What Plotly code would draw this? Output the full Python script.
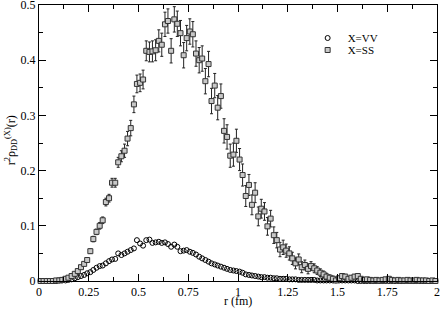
import plotly.graph_objects as go

# radial grid (fm)
r = [0.008, 0.023, 0.039, 0.055, 0.070, 0.086, 0.102, 0.117, 0.133, 0.148,
     0.164, 0.180, 0.195, 0.211, 0.227, 0.242, 0.258, 0.273, 0.289, 0.305,
     0.320, 0.336, 0.352, 0.367, 0.383, 0.398, 0.414, 0.430, 0.445, 0.461,
     0.477, 0.492, 0.508, 0.523, 0.539, 0.555, 0.570, 0.586, 0.602, 0.617,
     0.633, 0.648, 0.664, 0.680, 0.695, 0.711, 0.727, 0.742, 0.758, 0.773,
     0.789, 0.805, 0.820, 0.836, 0.852, 0.867, 0.883, 0.898, 0.914, 0.930,
     0.945, 0.961, 0.977, 0.992, 1.008, 1.023, 1.039, 1.055, 1.070, 1.086,
     1.102, 1.117, 1.133, 1.148, 1.164, 1.180, 1.195, 1.211, 1.227, 1.242,
     1.258, 1.273, 1.289, 1.305, 1.320, 1.336, 1.352, 1.367, 1.383, 1.398,
     1.414, 1.430, 1.445, 1.461, 1.477, 1.492, 1.508, 1.523, 1.539, 1.555,
     1.570, 1.586, 1.602, 1.617, 1.633, 1.648, 1.664, 1.680, 1.695, 1.711,
     1.727, 1.742, 1.758, 1.773, 1.789, 1.805, 1.820, 1.836, 1.852, 1.867,
     1.883, 1.898, 1.914, 1.930, 1.945, 1.961, 1.977, 1.992]

vv = [0.000, 0.000, 0.000, 0.000, 0.000, 0.000, 0.001, 0.001, 0.001, 0.002,
      0.003, 0.005, 0.007, 0.009, 0.011, 0.014, 0.016, 0.020, 0.024, 0.027,
      0.028, 0.032, 0.036, 0.039, 0.040, 0.050, 0.047, 0.050, 0.053, 0.056,
      0.059, 0.074, 0.068, 0.064, 0.074, 0.075, 0.069, 0.070, 0.071, 0.069,
      0.070, 0.067, 0.062, 0.066, 0.062, 0.054, 0.055, 0.056, 0.053, 0.051,
      0.048, 0.044, 0.041, 0.038, 0.035, 0.032, 0.030, 0.028, 0.026, 0.024,
      0.022, 0.020, 0.019, 0.018, 0.017, 0.015, 0.012, 0.011, 0.010, 0.009,
      0.008, 0.007, 0.007, 0.006, 0.006, 0.005, 0.005, 0.004, 0.004, 0.004,
      0.003, 0.003, 0.003, 0.002, 0.002, 0.002, 0.002, 0.002, 0.002, 0.001,
      0.001, 0.001, 0.001, 0.001, 0.001, 0.001, 0.001, 0.001, 0.001, 0.001,
      0.001, 0.001, 0.000, 0.000, 0.000, 0.000, 0.000, 0.000, 0.000, 0.000,
      0.000, 0.000, 0.000, 0.000, 0.000, 0.000, 0.000, 0.000, 0.000, 0.000,
      0.000, 0.000, 0.000, 0.000, 0.000, 0.000, 0.000, 0.000]

ss = [0.000, 0.000, 0.000, 0.000, 0.000, 0.001, 0.001, 0.002, 0.004, 0.006,
      0.009, 0.013, 0.018, 0.025, 0.031, 0.038, 0.054, 0.076, 0.089, 0.100,
      0.110, 0.143, 0.150, 0.178, 0.178, 0.215, 0.226, 0.236, 0.258, 0.277,
      0.320, 0.357, 0.359, 0.365, 0.417, 0.415, 0.416, 0.418, 0.435, 0.428,
      0.465, 0.471, 0.417, 0.474, 0.466, 0.449, 0.409, 0.440, 0.452, 0.447,
      0.412, 0.400, 0.403, 0.362, 0.393, 0.326, 0.354, 0.314, 0.335, 0.272,
      0.261, 0.227, 0.229, 0.254, 0.220, 0.192, 0.154, 0.174, 0.138, 0.160,
      0.117, 0.131, 0.126, 0.099, 0.113, 0.083, 0.074, 0.057, 0.061, 0.055,
      0.050, 0.041, 0.032, 0.039, 0.025, 0.029, 0.022, 0.027, 0.023, 0.019,
      0.015, 0.012, 0.008, 0.006, 0.004, 0.001, 0.005, 0.009, 0.008, 0.004,
      0.006, 0.008, 0.009, 0.004, 0.002, 0.003, 0.002, 0.001, 0.002, 0.001,
      0.002, 0.003, 0.004, 0.002, 0.001, 0.002, 0.001, 0.001, 0.002, 0.001,
      0.001, 0.002, 0.001, 0.001, 0.001, 0.000, 0.001, 0.000]

ss_err = [0.001, 0.001, 0.001, 0.001, 0.001, 0.001, 0.001, 0.001, 0.001, 0.001,
          0.001, 0.002, 0.002, 0.003, 0.003, 0.004, 0.004, 0.005, 0.005, 0.006,
          0.006, 0.007, 0.007, 0.008, 0.008, 0.009, 0.010, 0.012, 0.013, 0.014,
          0.015, 0.016, 0.016, 0.017, 0.018, 0.018, 0.019, 0.019, 0.020, 0.021,
          0.022, 0.022, 0.022, 0.023, 0.023, 0.023, 0.023, 0.023, 0.023, 0.023,
          0.023, 0.023, 0.023, 0.023, 0.023, 0.023, 0.022, 0.022, 0.022, 0.022,
          0.022, 0.021, 0.021, 0.021, 0.020, 0.020, 0.019, 0.019, 0.018, 0.018,
          0.017, 0.017, 0.016, 0.016, 0.015, 0.015, 0.014, 0.013, 0.013, 0.012,
          0.012, 0.011, 0.010, 0.010, 0.010, 0.009, 0.009, 0.008, 0.008, 0.007,
          0.007, 0.006, 0.006, 0.005, 0.005, 0.004, 0.004, 0.004, 0.004, 0.004,
          0.003, 0.003, 0.003, 0.003, 0.003, 0.003, 0.003, 0.003, 0.003, 0.003,
          0.003, 0.003, 0.003, 0.002, 0.002, 0.002, 0.002, 0.002, 0.002, 0.002,
          0.002, 0.002, 0.002, 0.002, 0.002, 0.002, 0.002, 0.002]

x_ticks = [0, 0.25, 0.5, 0.75, 1, 1.25, 1.5, 1.75, 2]
x_labels = ["0", "0.25", "0.5", "0.75", "1", "1.25", "1.5", "1.75", "2"]
y_ticks = [0, 0.1, 0.2, 0.3, 0.4, 0.5]
y_labels = ["0", "0.1", "0.2", "0.3", "0.4", "0.5"]

FONT = "Liberation Serif"

fig = go.Figure()
fig.add_trace(go.Scatter(
    x=r, y=vv, mode="markers", name="X=VV", cliponaxis=False, legend="legend",
    marker=dict(symbol="circle-open", size=5, color="black", line=dict(width=1)),
))
fig.add_trace(go.Scatter(
    x=r, y=ss, mode="markers", name="X=SS", cliponaxis=False, legend="legend2",
    error_y=dict(type="data", array=ss_err, color="#222222", thickness=1, width=1.5),
    marker=dict(symbol="square", size=5, color="#c8c8c8", line=dict(width=1, color="#333333")),
))

axis_common = dict(
    showgrid=False, zeroline=False, showline=True, linecolor="black", linewidth=1,
    mirror="ticks", ticks="inside", ticklen=7, tickcolor="black", tickwidth=1,
    tickfont=dict(family=FONT, size=12, color="black"), automargin=False,
    ticklabeloverflow="allow",
)

fig.update_xaxes(
    range=[0, 2], tickvals=x_ticks, ticktext=x_labels,
    minor=dict(ticks="inside", ticklen=4, dtick=0.125, tick0=0, tickcolor="black", showgrid=False),
    **axis_common,
)
fig.update_yaxes(
    range=[0, 0.5], tickvals=y_ticks, ticktext=y_labels,
    minor=dict(ticks="inside", ticklen=4, dtick=0.05, tick0=0, tickcolor="black", showgrid=False),
    **axis_common,
)

fig.add_annotation(
    text="r (fm)", xref="paper", yref="paper", x=0.5, y=0, yshift=-28,
    xanchor="center", yanchor="bottom", showarrow=False, borderpad=0,
    font=dict(family=FONT, size=12, color="black"),
)
fig.add_annotation(
    text="r<sup>2</sup>ρ<sub>DD</sub><sup>(X)</sup>(r)", xref="paper", yref="paper",
    x=0, y=0.51, xshift=-28, xanchor="center", yanchor="middle", textangle=-90,
    showarrow=False, font=dict(family=FONT, size=12, color="black"),
)

leg_common = dict(xanchor="left", yanchor="middle", bgcolor="rgba(0,0,0,0)",
                  font=dict(family=FONT, size=11, color="black"),
                  itemsizing="trace", itemwidth=30)

fig.update_layout(
    width=441, height=309,
    margin=dict(l=39, r=4, t=5, b=28),
    paper_bgcolor="white", plot_bgcolor="white",
    showlegend=True,
    legend=dict(x=0.675, y=1 - (38 - 5) / 276, **leg_common),
    legend2=dict(x=0.675, y=1 - (50 - 5) / 276, **leg_common),
)

fig.write_html("out.html", config={"displayModeBar": False},
               post_script="document.body.style.margin='0';")
